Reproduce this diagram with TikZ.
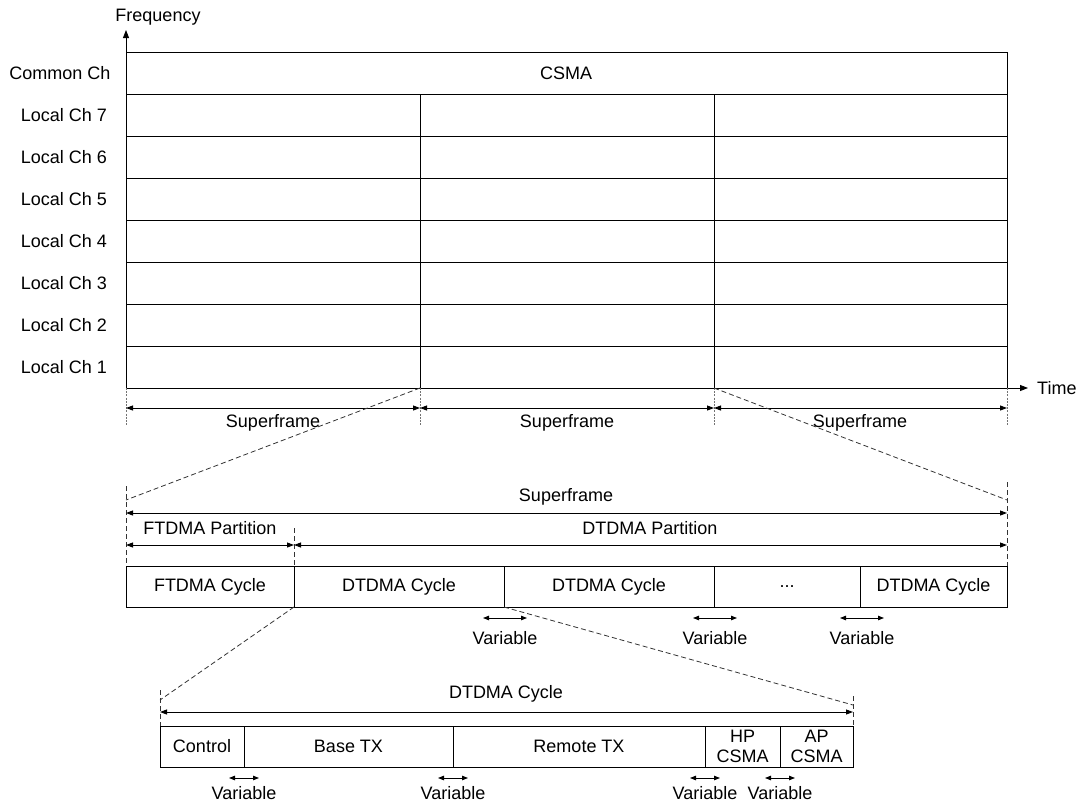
\documentclass[tikz,border=0pt]{standalone}
\usepackage{fontspec}
\setmainfont{Liberation Sans}
\usetikzlibrary{arrows.meta}
\begin{document}
\begin{tikzpicture}[x=1pt,y=-1pt,
  font=\fontsize{18}{21}\selectfont,
  grid/.style={line width=0.9pt},
  cell/.style={draw, line width=0.9pt, inner sep=0pt, outer sep=0pt, anchor=north west, minimum height=41pt},
  dimarrow/.style={line width=0.9pt, {Triangle[length=7pt,width=5pt]}-{Triangle[length=7pt,width=5pt]}},
  vararrow/.style={line width=0.9pt, {Triangle[length=6pt,width=4.5pt]}-{Triangle[length=6pt,width=4.5pt]}},
  axis/.style={line width=0.9pt, -{Triangle[length=8pt,width=6pt]}},
  tick/.style={draw=black!55, line width=0.9pt, dash pattern=on 2pt off 1.2pt},
  zoomline/.style={draw=black!80, line width=0.8pt, dash pattern=on 5pt off 3pt},
  lbl/.style={inner sep=0pt}]
\useasboundingbox (0,0) rectangle (1083,803);

% ---------- channel/time grid ----------
\coordinate (o) at (126,388);
\coordinate (ftop) at (126,30);
\coordinate (tend) at (1028,388);
\foreach \y in {52,94,136,178,220,262,304,346}
  \draw[grid] (126,\y) -- (1007,\y);
\draw[grid] (1007,52) -- (1007,388);
\draw[grid] (420,94) -- (420,388);
\draw[grid] (714,94) -- (714,388);
\draw[axis] (o) -- (ftop);
\draw[axis] (o) -- (tend);
\node[lbl] (freq) at (158,17) {Frequency};
\node[lbl, anchor=west] (time) at (1037,388) {Time};

\node[lbl] (cch) at (60,73) {Common Ch};
\node[lbl] (csma) at (566,73) {CSMA};
\foreach \k/\y in {7/115,6/157,5/199,4/241,3/283,2/325,1/367}
  \node[lbl] (lch\k) at (64,\y) {Local Ch \k};

% superframe markers under the time axis
\foreach \n/\x in {a/126,b/420,c/714,d/1007}{
  \coordinate (s\n) at (\x,408);
  \draw[tick] (\x,388) -- (\x,425);
}
\draw[dimarrow] (sa) -- (sb);
\draw[dimarrow] (sb) -- (sc);
\draw[dimarrow] (sc) -- (sd);
\node[lbl] (sf1) at (273,423) {Superframe};
\node[lbl] (sf2) at (567,423) {Superframe};
\node[lbl] (sf3) at (860,423) {Superframe};

% ---------- one superframe ----------
\coordinate (zl) at (126,500);
\coordinate (zr) at (1007,500);
\draw[zoomline] (420,388) -- (zl);
\draw[zoomline] (714,388) -- (zr);
\draw[zoomline] (126,486) -- (126,566);
\draw[zoomline] (1007,482) -- (1007,566);
\draw[zoomline] (294,528) -- (294,566);

\coordinate (m1) at (126,513);
\coordinate (m2) at (1007,513);
\draw[dimarrow] (m1) -- (m2);
\node[lbl] (sfm) at (566,497) {Superframe};

\coordinate (p1) at (126,545);
\coordinate (p2) at (294,545);
\coordinate (p3) at (1007,545);
\draw[dimarrow] (p1) -- (p2);
\draw[dimarrow] (p2) -- (p3);
\node[lbl] (ftp) at (210,528) {FTDMA Partition};
\node[lbl] (dtp) at (650,528) {DTDMA Partition};

\node[cell, minimum width=168pt] (ftc) at (126,566) {FTDMA Cycle};
\node[cell, minimum width=210pt] (dc1) at (294,566) {DTDMA Cycle};
\node[cell, minimum width=210pt] (dc2) at (504,566) {DTDMA Cycle};
\node[cell, minimum width=146pt] (dots) at (714,566) {...};
\node[cell, minimum width=147pt] (dc3) at (860,566) {DTDMA Cycle};

\foreach \n/\x in {1/505,2/715,3/862}{
  \draw[vararrow] (\x-22,618) -- (\x+22,618);
  \node[lbl] (vm\n) at (\x,638) {Variable};
}

% ---------- one DTDMA cycle ----------
\coordinate (bl) at (160,700);
\coordinate (br) at (853,705);
\draw[zoomline] (ftc.south east) -- (bl);
\draw[zoomline] (dc1.south east) -- (br);
\draw[zoomline] (160,690) -- (160,726);
\draw[zoomline] (853,696) -- (853,726);

\coordinate (c1) at (160,712);
\coordinate (c2) at (853,712);
\draw[dimarrow] (c1) -- (c2);
\node[lbl] (dcl) at (506,694) {DTDMA Cycle};

\node[cell, minimum width=84pt] (ctl) at (160,726) {Control};
\node[cell, minimum width=209pt] (btx) at (244,726) {Base TX};
\node[cell, minimum width=252pt] (rtx) at (453,726) {Remote TX};
\node[cell, minimum width=75pt, align=center, font=\fontsize{18}{20}\selectfont] (hp) at (705,726) {HP\\CSMA};
\node[cell, minimum width=73pt, align=center, font=\fontsize{18}{20}\selectfont] (ap) at (780,726) {AP\\CSMA};

\foreach \n/\x in {1/244,2/453,3/705,4/780}{
  \draw[vararrow] (\x-15,778) -- (\x+15,778);
  \node[lbl] (vb\n) at (\x,793) {Variable};
}
\end{tikzpicture}
\end{document}
